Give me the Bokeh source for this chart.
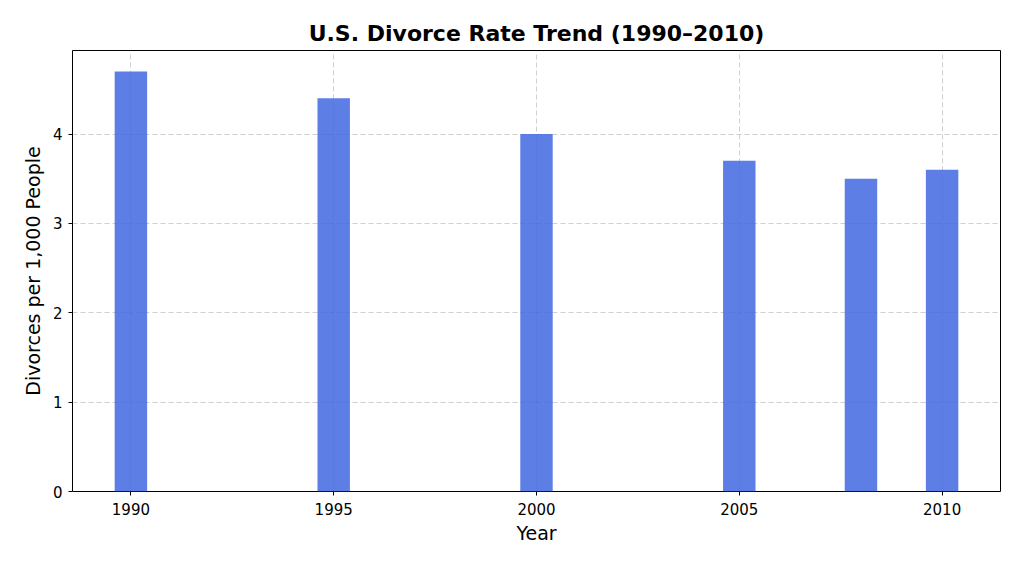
from bokeh.plotting import figure
from bokeh.models import ColumnDataSource, FixedTicker, Range1d
from bokeh.embed import file_html
from bokeh.resources import INLINE

years = [1990, 1995, 2000, 2005, 2008, 2010]
rates = [4.7, 4.4, 4.0, 3.7, 3.5, 3.6]
x_ticks = [1990, 1995, 2000, 2005, 2010]
y_ticks = [0, 1, 2, 3, 4]

src = ColumnDataSource(dict(year=years, rate=rates))

p = figure(width=1008, height=553, output_backend="svg", toolbar_location=None,
           x_range=Range1d(1988.56, 2011.44), y_range=Range1d(0, 4.935),
           min_border_left=72, min_border_right=8, min_border_top=50, min_border_bottom=62)

p.vbar(x="year", top="rate", width=0.8, source=src, fill_color="royalblue",
       fill_alpha=0.85, line_color=None)

p.title.text = "U.S. Divorce Rate Trend (1990\u20132010)"
p.title.align = "center"
p.title.text_font = "DejaVu Sans"
p.title.text_font_size = "22px"
p.title.text_font_style = "bold"
p.title.text_color = "black"

p.outline_line_color = "black"
p.outline_line_width = 1
p.outline_line_alpha = 1

for ax in (p.xaxis, p.yaxis):
    ax.axis_line_color = None
    ax.major_tick_line_color = "black"
    ax.major_tick_in = 0
    ax.major_tick_out = 4
    ax.minor_tick_line_color = None
    ax.major_label_text_font = "DejaVu Sans"
    ax.major_label_text_font_size = "15px"
    ax.major_label_text_color = "black"
    ax.axis_label_text_font = "DejaVu Sans"
    ax.axis_label_text_font_size = "19px"
    ax.axis_label_text_font_style = "normal"
    ax.axis_label_text_color = "black"

p.xaxis.ticker = FixedTicker(ticks=x_ticks)
p.yaxis.ticker = FixedTicker(ticks=y_ticks)
p.xaxis.axis_label = "Year"
p.yaxis.axis_label = "Divorces per 1,000 People"
p.xaxis.major_label_standoff = 7
p.yaxis.major_label_standoff = 6
p.xaxis.axis_label_standoff = 4
p.yaxis.axis_label_standoff = 6

for g in (p.xgrid, p.ygrid):
    g.grid_line_color = "#b0b0b0"
    g.grid_line_alpha = 0.6
    g.grid_line_dash = "5 3"
    g.grid_line_width = 1
p.xgrid.ticker = FixedTicker(ticks=x_ticks)
p.ygrid.ticker = FixedTicker(ticks=y_ticks)

open("out.html", "w").write(file_html(p, INLINE))
